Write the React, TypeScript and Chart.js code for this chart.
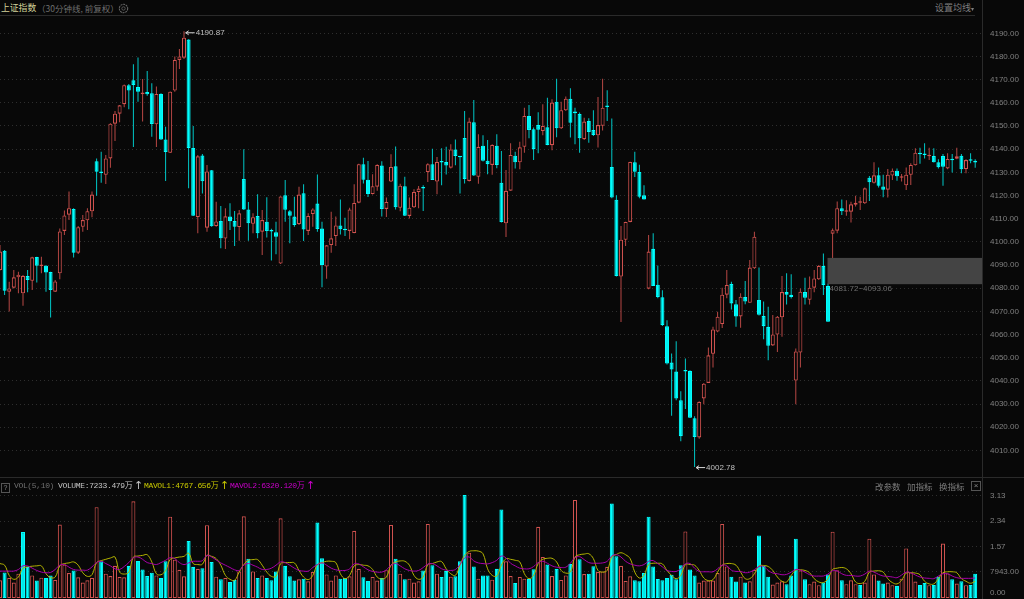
import React, { useEffect, useRef } from "react";
import { Chart, registerables } from "chart.js";

Chart.register(...registerables);

const opens = [
  4087.8,4096.2,4078.5,4080.2,4084.7,4077.8,4085.3,4083.2,4093.5,4089.6,
  4089.7,4087,4078.5,4086.4,4104.7,4111.7,4114.2,4095.3,4106.5,4109.3,
  4113.2,4134.8,4130.4,4128.9,4136,4151,4155.3,4159.4,4167.6,4169.7,
  4166.8,4163.7,4164.7,4164.1,4150.7,4163.8,4144.2,4138.4,4165.3,4178.5,
  4179.5,4187.3,4140.5,4110.7,4137.3,4106.1,4130.9,4106.8,4109,4101.4,
  4110.9,4109,4106.4,4127.1,4114,4107.8,4111.2,4104.4,4108.7,4104.7,
  4104.1,4090.6,4120.1,4113.2,4110.9,4107.7,4121,4104.7,4112,4116.5,
  4105.7,4089.3,4098.6,4102.5,4107.1,4105.4,4104.7,4103.8,4116.9,4133.5,
  4126.8,4120.6,4123.8,4132.9,4114.2,4126,4132.6,4114.7,4124,4111.2,
  4114.9,4121.5,4123.1,4130.1,4133.5,4126,4134.3,4134.5,4132,4139.9,
  4136.6,4144.8,4126.3,4151.6,4128.1,4141.5,4135,4133.2,4141.5,4125.5,
  4108,4122.1,4137.2,4134.3,4141,4154.3,4148.6,4150.4,4147.8,4149.4,
  4141.7,4160.5,4149,4156.8,4161.8,4156.3,4155.2,4144.3,4152.2,4148.3,
  4146,4150.1,4158.4,4132.3,4118.2,4085,4100.9,4108.6,4134.3,4130.1,
  4120.1,4079.8,4097,4081.5,4076.1,4063.6,4047.9,4044,4031.6,4044.2,
  4044.2,4023.9,4015.6,4032.4,4039.1,4051.7,4061.3,4064.5,4077.2,4081.8,
  4073.1,4067.8,4076.2,4073.7,4088.6,4074.9,4068,4063.3,4055.3,4060,
  4067.4,4078.3,4077.2,4040.1,4052.2,4078.3,4075,4080.2,4083.8,4089.6,
  4080.9,4103.5,4104.8,4114.5,4113,4113,4116,4116.9,4116.6,4127.7,
  4125.5,4128.7,4123.9,4122.5,4128.6,4130.7,4127.7,4124.4,4128.9,4133,
  4138.4,4137.8,4136.9,4137,4134.3,4137,4131.7,4135.3,4135.9,4137.2,
  4131.4,4135.6,4135,
];

const highs = [
  4098.6,4096.5,4082.8,4087.8,4087.1,4085.7,4087.8,4093.6,4093.6,4093.6,
  4090,4087.1,4083.5,4105.8,4113.5,4121.7,4114.5,4106.8,4111.6,4114.5,
  4121.7,4136,4138.9,4137.5,4151.2,4156.5,4159.1,4167.9,4168.1,4176.6,
  4179.6,4170.3,4173.7,4168.4,4167,4164.1,4149.7,4164.9,4180,4183.2,
  4190.87,4187.4,4150,4137.5,4137.9,4133.2,4131,4117.3,4115.5,4114.5,
  4116.6,4113.3,4113.7,4140,4117.2,4112.3,4120.5,4113.7,4119.2,4105.6,
  4108.7,4119.7,4126.7,4113.7,4119.5,4123.8,4124.8,4112.3,4114.5,4129.1,
  4108.7,4098.6,4113,4110.9,4118.3,4110.4,4114.7,4124.8,4133.7,4136.3,
  4134.9,4129.2,4133.5,4134.8,4119.1,4137.8,4141.1,4125.1,4128.1,4119.1,
  4122.7,4124.1,4124.4,4133.9,4140.2,4136.6,4140.4,4141,4142.1,4144.2,
  4136.8,4156.5,4153.6,4161.2,4146.4,4146,4144,4142.1,4146.4,4139.2,
  4131,4142.5,4138.9,4143.2,4157.9,4159.1,4149.3,4155.9,4159.4,4162.2,
  4161.5,4170.4,4160.5,4162.7,4166.3,4157.9,4155.8,4153.6,4153.3,4156.8,
  4162.5,4170.4,4165.4,4153.2,4120.1,4106.8,4108.7,4134.6,4138.9,4133.3,
  4124.4,4103,4103.7,4089.8,4079.1,4066.2,4051.8,4057.1,4035.5,4049.6,
  4044.6,4024.7,4031.2,4039.1,4054.4,4063.3,4069.8,4080.2,4087.8,4082.8,
  4074.9,4077.8,4083.1,4092.2,4104.4,4088.9,4074.2,4072,4068.4,4068,
  4085.2,4086.4,4086,4054,4079.9,4084.5,4085,4087.8,4090,4095,
  4082,4105.8,4117.4,4118.3,4118,4117.3,4119.9,4119.5,4123.4,4128.4,
  4134.3,4132.1,4128.9,4131.4,4131.7,4131.7,4129.3,4132.1,4133.9,4140.4,
  4140.6,4142.5,4140.6,4140.4,4135.6,4137.9,4138.2,4137.9,4140.6,4137.9,
  4135.6,4138.2,4135.6,
];

const lows = [
  4087.6,4077.1,4069.9,4079.9,4077.8,4072.4,4078.2,4079.2,4082.4,4086.4,
  4078.5,4067.3,4078.3,4083.8,4103,4109.4,4093.2,4094.7,4104.4,4105.1,
  4110.6,4119.9,4125.5,4125,4132,4143.5,4151.6,4158.1,4157.2,4140.9,
  4160.5,4151.9,4163.1,4145.3,4140.9,4143.9,4126.3,4138.3,4164.8,4174.6,
  4178.9,4123.1,4111.2,4103.7,4120.9,4104.4,4106.5,4106.5,4097.2,4096.9,
  4105.1,4098.2,4100.5,4113.7,4100.5,4103.7,4101.5,4094.3,4101.9,4091.9,
  4094.6,4090.4,4108.7,4099.4,4106.5,4107.3,4100.4,4102.9,4106.5,4104.4,
  4080.4,4084.1,4095.3,4098.2,4103.2,4102.5,4101.1,4103.7,4116.6,4125.2,
  4119.3,4120.4,4122,4110.9,4110.7,4125.8,4114,4113.2,4111.2,4110.1,
  4114.6,4114.5,4113.3,4125.8,4126.7,4120.5,4124.4,4129.1,4131.7,4133,
  4120.9,4125.2,4126,4128.4,4125.1,4134.7,4129.2,4128.9,4131.8,4108.3,
  4102.1,4122,4131.7,4131.3,4138.5,4144.7,4135.3,4138.2,4146,4141.7,
  4139.5,4145.1,4148.7,4156.5,4145,4142.1,4138.5,4144,4142.8,4145.7,
  4140.7,4148.1,4152.2,4118.8,4085,4065.4,4098.2,4108.5,4128,4118.8,
  4118.3,4079.5,4080.9,4075.6,4063.7,4047.1,4024.9,4031.6,4013.9,4027.9,
  4024,4002.78,4015,4029.9,4039.1,4045.8,4061,4062.8,4075.6,4070.8,
  4063.3,4062.9,4073.1,4073.7,4088.3,4068.2,4057.9,4048.9,4055,4052.5,
  4059,4073,4075.5,4029.9,4045.8,4073,4073,4078.2,4083.5,4077,
  4065.5,4092.9,4103.7,4111.6,4111.3,4108.3,4115.2,4113.7,4116.3,4117.6,
  4125.2,4123.4,4119.2,4119.1,4126.7,4126.4,4126,4122.4,4124.5,4132.9,
  4133.7,4136,4135.3,4134.2,4131.7,4124.2,4131.3,4129.9,4135.6,4129.6,
  4129.6,4133.9,4132,
];

const closes = [
  4095.8,4078.9,4079.9,4084.7,4085.8,4085.3,4083.5,4093.3,4089.7,4089.9,
  4086.8,4079.2,4082.9,4104.5,4111.4,4114.5,4095.3,4106.3,4109.4,4113.2,
  4120.4,4130.3,4129.7,4136,4151,4155.3,4158.9,4167.6,4165.3,4167.7,
  4164.8,4164.4,4163.7,4150.9,4163.8,4144.2,4138.8,4164.8,4178.5,4180,
  4188.1,4140.5,4111.3,4136.9,4126.1,4130.4,4106.7,4108.8,4101.5,4111,
  4108.9,4106.5,4112.3,4114,4108,4110.6,4103.7,4109.4,4104.7,4104.5,
  4102.2,4119.6,4113.9,4111.3,4107.3,4120.4,4105.3,4111.2,4114,4105.5,
  4090,4098.5,4101.5,4107.1,4105.4,4105,4114,4116.8,4133.5,4126.8,
  4120.6,4124,4133.2,4114.2,4117.2,4132.3,4114.9,4124.2,4111.3,4114.7,
  4121.5,4123,4123,4133.5,4126.7,4134.5,4134.2,4132.9,4139.9,4137,
  4136.5,4127.1,4151.9,4128.6,4141,4135,4133.5,4141.8,4133.2,4108.6,
  4122,4137.5,4134.3,4140.8,4154.3,4148.3,4140,4148.4,4150,4141.8,
  4160.1,4149,4156.8,4161.8,4151.4,4155.5,4144.7,4151.9,4147.4,4146.1,
  4150.4,4157.9,4158.2,4119.1,4085.3,4100.9,4108.6,4134.5,4130.3,4119.5,
  4118.3,4095.8,4080.9,4076.2,4064.1,4047.5,4044.9,4032.4,4016.1,4044,
  4024.1,4015.8,4030.9,4038.8,4051,4062.2,4067.7,4077.2,4081.4,4073.4,
  4067.8,4076.3,4074.2,4088.9,4102.2,4068.5,4063.6,4055.1,4060,4067.7,
  4078.3,4077.2,4076.2,4052.7,4078.5,4075.9,4080.2,4084.2,4089.6,4081.4,
  4065.5,4105,4114.5,4113.2,4113.3,4116.2,4116.9,4117.1,4123.1,4125.7,
  4128.7,4124.2,4122.5,4129,4130.7,4128.3,4128.3,4129,4133.2,4138.5,
  4137.8,4137.5,4137.5,4134.3,4132.2,4132.4,4135.8,4135.2,4136.9,4131.3,
  4135.3,4135,4134.2,
];

const volumes = [
  .54,.78,.61,.47,.74,2.01,.95,.69,.53,.62,
  .61,.69,.55,2.24,1.02,.76,.84,.63,.47,.54,
  .61,2.77,1.12,.74,.67,.98,.64,.63,.98,2.95,
  1.13,.87,.67,.77,.69,.61,1.12,2.48,1.17,.86,
  .66,1.74,.95,.89,.91,2.22,1.10,.65,.57,.61,
  .49,.55,.81,2.49,1.20,.81,.61,.69,.61,.54,
  .81,2.43,.98,.66,.53,.57,.59,.51,.79,2.30,
  1.21,.72,.53,.69,.59,.61,.66,2.05,.89,.63,
  .52,.64,.53,.61,.85,2.23,1.20,.74,.57,.59,
  .47,.51,.84,2.26,1.00,.74,.64,.83,.65,.66,
  1.12,3.14,1.38,.96,.59,.69,.69,.56,.89,2.70,
  1.12,.67,.46,.64,.59,.58,.88,2.17,1.25,1.02,
  .67,.89,.55,.69,1.04,2.99,1.18,.73,.74,.97,
  .79,.81,.95,2.88,1.27,.98,.52,.66,.54,.51,
  .76,2.48,.96,.58,.54,.61,.71,.57,1.00,2.03,
  .87,.69,.47,.53,.53,.53,.76,2.26,.96,.65,
  .50,.65,.47,.51,.86,1.91,.98,.65,.41,.47,
  .51,.42,.69,1.81,.84,.57,.42,.50,.39,.47,
  .72,2.02,.85,.54,.42,.54,.42,.40,.47,1.81,
  .72,.53,.44,.47,.39,.37,.59,1.51,.78,.50,
  .40,.46,.39,.40,.65,1.66,.75,.57,.44,.51,
  .39,.40,.74,
];

const volumeIsUp = [
  1,0,1,1,1,0,0,1,0,1,
  0,0,1,1,1,1,0,1,1,1,
  1,1,0,1,1,1,1,1,0,1,
  0,0,0,0,1,0,0,1,1,1,
  1,0,0,1,0,1,0,1,0,1,
  0,0,1,1,0,1,0,1,0,0,
  0,1,0,0,0,1,0,1,1,0,
  0,1,1,1,0,0,1,1,1,0,
  0,1,1,0,1,1,0,1,0,1,
  1,1,0,1,0,1,0,0,1,0,
  0,0,1,0,1,0,0,1,0,0,
  1,1,0,1,1,0,0,1,1,0,
  1,0,1,1,0,1,0,1,0,0,
  1,1,1,0,0,1,1,1,0,0,
  0,0,0,0,0,0,0,0,0,1,
  0,0,1,1,1,1,1,1,1,0,
  0,1,0,1,1,0,0,0,1,1,
  1,0,0,0,1,0,1,1,1,0,
  0,1,1,0,1,1,1,0,1,1,
  1,0,0,1,1,0,1,1,1,1,
  0,0,1,0,0,1,1,0,1,0,
  1,0,0,
];

const mavol1 = [
  1.05,1.00,.69,.57,.64,.91,.95,.97,.98,.98,
  .74,.62,.64,.98,1.05,1.07,1.10,1.00,.77,.66,
  .71,1.08,1.14,1.18,1.22,1.25,.79,.73,.79,1.25,
  1.28,1.30,1.32,1.10,.74,.71,.84,1.18,1.22,1.25,
  1.27,1.37,1.05,1.02,1.03,1.30,1.27,1.20,1.00,.69,
  .57,.54,.79,1.02,1.15,1.17,1.17,1.00,.79,.66,
  .66,1.05,1.08,1.08,1.07,.84,.64,.56,.69,1.02,
  1.08,1.12,1.12,1.08,.74,.59,.69,.98,1.02,1.00,
  .98,.87,.64,.58,.64,1.00,1.10,1.13,1.12,1.00,
  .69,.57,.64,1.02,1.05,1.10,1.11,.89,.74,.69,
  1.00,1.30,1.42,1.44,1.43,1.35,.89,.69,.67,1.00,
  1.20,1.18,1.15,1.10,.74,.59,.69,1.05,1.18,1.21,
  1.21,1.10,.84,.76,.79,1.25,1.32,1.34,1.35,1.20,
  .84,.79,.84,1.25,1.33,1.38,1.32,1.20,.79,.61,
  .69,1.02,1.06,1.06,1.04,.84,.69,.59,.69,1.02,
  1.02,1.00,.84,.61,.53,.56,.79,1.00,1.05,1.05,
  1.00,.79,.59,.59,.74,.98,.99,.96,.84,.64,
  .51,.49,.69,.85,.86,.84,.77,.59,.49,.47,
  .59,.87,.91,.93,.89,.74,.49,.44,.51,.79,
  .82,.83,.79,.59,.47,.43,.54,.76,.77,.76,
  .71,.51,.43,.43,.59,.77,.80,.80,.77,.59,
  .51,.45,.51,
];

const mavol2 = [
  .82,.82,.82,.82,.87,.98,.98,.91,.84,.79,
  .77,.78,.87,1.00,1.02,.94,.87,.85,.85,.85,
  .95,1.08,1.12,1.05,.98,.89,.87,.96,1.08,1.23,
  1.25,1.18,1.08,1.05,1.02,1.08,1.15,1.23,1.20,1.08,
  1.02,1.07,1.12,1.12,1.14,1.30,1.25,1.16,1.07,1.00,
  .93,.86,.84,1.00,1.05,1.00,.94,.87,.87,.91,
  1.00,1.10,1.08,1.00,.91,.84,.82,.82,.93,1.02,
  1.07,1.00,.91,.86,.84,.84,.89,1.04,1.04,.95,
  .86,.81,.79,.79,.86,1.00,1.05,.98,.89,.84,
  .82,.84,.93,1.03,1.05,.98,.89,.85,.84,.87,
  1.02,1.22,1.25,1.13,1.07,1.05,1.04,1.08,1.15,1.28,
  1.22,1.06,.98,.91,.89,.89,.96,1.08,1.12,1.06,
  .98,.94,.93,.94,1.06,1.23,1.26,1.17,1.08,1.06,
  1.06,1.07,1.12,1.28,1.32,1.25,1.12,1.04,1.00,.98,
  1.02,1.12,1.14,1.05,.95,.84,.81,.81,.89,1.04,
  1.05,.91,.81,.80,.80,.80,.89,1.00,.98,.85,
  .81,.81,.77,.79,.86,.96,.96,.84,.76,.74,
  .71,.72,.79,.87,.85,.79,.71,.67,.67,.67,
  .73,.83,.82,.74,.69,.69,.67,.67,.73,.82,
  .79,.72,.67,.66,.64,.62,.70,.79,.77,.70,
  .64,.61,.60,.59,.67,.74,.74,.67,.62,.60,
  .60,.60,.61,
];

const volTickValues = [0.17, 0.7943, 1.57, 2.34, 3.13];
const volTickLabels = ["0.00", "7943.00", "1.57", "2.34", "3.13"];

const gapLow = 4081.72;
const gapHigh = 4093.06;
const gapStartIndex = 180;
const highIndex = 40;
const lowIndex = 151;
const highValue = 4190.87;
const lowValue = 4002.78;

const BG = "#080808";
const RED = "#d0524f";
const CYAN = "#00ffff";
const GRID = "#2e2e2e";
const AXIS_TEXT = "#808080";
const LINE = "#2a2a2a";
const X_MAX = 213.48;

const axisFont = { family: "'Liberation Sans', Arial, sans-serif", size: 8 };

const fitAxis = (axis: any) => {
  axis.width = 42;
  axis.paddingTop = 0;
  axis.paddingBottom = 0;
};

const arrowLabel = (ctx: any, x: number, y: number, text: string) => {
  ctx.save();
  ctx.strokeStyle = "#d8d8d8";
  ctx.lineWidth = 1;
  ctx.beginPath();
  ctx.moveTo(x + 9, y + 0.5);
  ctx.lineTo(x, y + 0.5);
  ctx.moveTo(x + 3, y - 1.5);
  ctx.lineTo(x, y + 0.5);
  ctx.lineTo(x + 3, y + 2.5);
  ctx.stroke();
  ctx.fillStyle = "#c0c0c0";
  ctx.font = "8px 'Liberation Sans', Arial, sans-serif";
  ctx.textBaseline = "middle";
  ctx.textAlign = "left";
  ctx.fillText(text, x + 10, y + 0.5);
  ctx.restore();
};

const marksPlugin = {
  id: "marks",
  afterDatasetsDraw(chart: any) {
    const { ctx, chartArea } = chart;
    const x = chart.scales.x;
    const y = chart.scales.y;
    const left = x.getPixelForValue(gapStartIndex) - 0.5;
    const top = y.getPixelForValue(gapHigh);
    const bottom = y.getPixelForValue(gapLow);
    ctx.save();
    ctx.fillStyle = "#444444";
    ctx.fillRect(left, top, chartArea.right - left, bottom - top);
    ctx.fillStyle = "#6e6e6e";
    ctx.font = "8px 'Liberation Sans', Arial, sans-serif";
    ctx.textBaseline = "middle";
    ctx.textAlign = "left";
    ctx.fillText(`${gapLow}~${gapHigh}`, left + 2, bottom + 4.5);
    ctx.restore();
    arrowLabel(ctx, x.getPixelForValue(highIndex) + 1.7, y.getPixelForValue(highValue) + 1, String(highValue));
    arrowLabel(ctx, x.getPixelForValue(lowIndex) + 1.5, y.getPixelForValue(lowValue), String(lowValue));
  },
};

const wrap: React.CSSProperties = {
  position: "absolute",
  left: 0,
  top: 0,
  width: 1024,
  height: 599,
  overflow: "hidden",
  background: BG,
};

const label = (left: number, top: number, color: string, size = 9): React.CSSProperties => ({
  position: "absolute",
  left,
  top,
  color,
  fontSize: size,
  lineHeight: "12px",
  whiteSpace: "pre",
  fontFamily: "'Noto Sans CJK SC', sans-serif",
});

const mono = (left: number, color: string): React.CSSProperties => ({
  position: "absolute",
  left,
  top: 480,
  color,
  fontSize: 8,
  lineHeight: "12px",
  whiteSpace: "pre",
  letterSpacing: -0.35,
  fontFamily: "'Liberation Mono', 'Noto Sans CJK SC', monospace",
});

const arrow = (left: number, color: string): React.CSSProperties => ({
  position: "absolute",
  left,
  top: 480,
  color,
  fontSize: 11,
  lineHeight: "12px",
  fontFamily: "'DejaVu Sans', sans-serif",
});

export default function App() {
  const priceRef = useRef<HTMLCanvasElement>(null);
  const volRef = useRef<HTMLCanvasElement>(null);

  useEffect(() => {
    const isUp = closes.map((c, i) => c >= opens[i]);
    const priceChart = new Chart(priceRef.current as HTMLCanvasElement, {
      type: "bar",
      data: {
        datasets: [
          {
            order: 1,
            grouped: false,
            barThickness: 4,
            minBarLength: 1.5,
            borderWidth: 1.1,
            borderSkipped: false,
            inflateAmount: 0,
            data: opens.map((o, i) => ({ x: i, y: [Math.min(o, closes[i]), Math.max(o, closes[i])] })),
            backgroundColor: isUp.map((u) => (u ? BG : CYAN)),
            borderColor: isUp.map((u) => (u ? RED : CYAN)),
          },
          {
            order: 2,
            grouped: false,
            barThickness: 1,
            borderWidth: 0,
            inflateAmount: 0,
            data: lows.map((l, i) => ({ x: i, y: [l, highs[i]] })),
            backgroundColor: isUp.map((u) => (u ? "#b84845" : "#00c8c8")),
          },
        ],
      } as any,
      options: {
        animation: false,
        responsive: false,
        layout: { padding: 0 },
        plugins: { legend: { display: false }, tooltip: { enabled: false } },
        scales: {
          x: { type: "linear", min: 0, max: X_MAX, display: false, offset: false },
          y: {
            position: "right",
            min: 3998.5,
            max: 4197.47,
            afterFit: fitAxis,
            afterBuildTicks: (axis: any) => { axis.ticks = axis.ticks.filter((t: any) => t.value >= 4010 && t.value <= 4190); },
            ticks: {
              stepSize: 10,
              includeBounds: false,
              autoSkip: false,
              padding: 8,
              color: AXIS_TEXT,
              font: axisFont,
              callback: (v: any) => Number(v).toFixed(2),
            },
            grid: { color: GRID, drawTicks: false, lineWidth: 1 },
            border: { display: false, dash: [1, 3] },
          },
        },
      } as any,
      plugins: [marksPlugin],
    });

    const volChart = new Chart(volRef.current as HTMLCanvasElement, {
      type: "bar",
      data: {
        datasets: [
          {
            type: "line",
            order: 0,
            data: mavol2.map((v, i) => ({ x: i, y: v })),
            borderColor: "#a800a8",
            borderWidth: 1,
            pointRadius: 0,
            tension: 0.4,
          },
          {
            type: "line",
            order: 0,
            data: mavol1.map((v, i) => ({ x: i, y: v })),
            borderColor: "#b4b400",
            borderWidth: 1,
            pointRadius: 0,
            tension: 0.4,
          },
          {
            order: 1,
            grouped: false,
            barThickness: 4,
            borderWidth: 1.1,
            borderSkipped: false,
            inflateAmount: 0,
            data: volumes.map((v, i) => ({ x: i, y: v })),
            backgroundColor: volumeIsUp.map((u) => (u ? BG : CYAN)),
            borderColor: volumeIsUp.map((u) => (u ? RED : CYAN)),
          },
        ],
      } as any,
      options: {
        animation: false,
        responsive: false,
        layout: { padding: 0 },
        plugins: { legend: { display: false }, tooltip: { enabled: false } },
        scales: {
          x: { type: "linear", min: 0, max: X_MAX, display: false, offset: false },
          y: {
            position: "right",
            min: 0,
            max: 3.66,
            afterFit: fitAxis,
            afterBuildTicks: (axis: any) => { axis.ticks = volTickValues.map((value) => ({ value })); },
            ticks: {
              autoSkip: false,
              padding: 8,
              color: AXIS_TEXT,
              font: axisFont,
              callback: (_v: any, i: number) => volTickLabels[i],
            },
            grid: {
              color: (c: any) => (c.index === 0 ? "transparent" : GRID),
              drawTicks: false,
              lineWidth: 1,
            },
            border: { display: false, dash: [1, 3] },
          },
        },
      } as any,
    });

    return () => {
      priceChart.destroy();
      volChart.destroy();
    };
  }, []);

  return (
    <div style={wrap}>
      <style>{`html,body{margin:0;padding:0;background:${BG};overflow:hidden}`}</style>
      <canvas ref={priceRef} width={1024} height={461} style={{ position: "absolute", left: 0, top: 16, display: "block" }} />
      <canvas ref={volRef} width={1024} height={120} style={{ position: "absolute", left: 0, top: 478, display: "block" }} />

      <div style={{ position: "absolute", left: 0, top: 15, width: 975, height: 1, background: LINE }} />
      <div style={{ position: "absolute", left: 0, top: 477, width: 1024, height: 1, background: LINE }} />
      <div style={{ position: "absolute", left: 982, top: 0, width: 1, height: 599, background: LINE }} />

      <span style={label(1, 2, "#d2d29a", 8.8)}>上证指数</span>
      <span style={label(37, 2, "#6f6f6f", 8.5)}>（30分钟线, 前复权）</span>
      <svg width="11" height="11" viewBox="0 0 11 11" style={{ position: "absolute", left: 118, top: 2.5 }}>
        <circle cx="5.5" cy="5.5" r="4.2" fill="none" stroke="#666" strokeWidth="1.1" strokeDasharray="2 0.7" />
        <circle cx="5.5" cy="5.5" r="1.7" fill="none" stroke="#666" strokeWidth="0.8" />
      </svg>
      <span style={label(935, 2, "#7e7e7e", 9)}>设置均线</span>
      <span style={{ ...label(971, 3, "#7e7e7e", 6) }}>▾</span>

      <span style={{ position: "absolute", left: 1, top: 483, width: 7, height: 8, border: "1px solid #555", color: "#888", fontSize: 7, lineHeight: "8px", textAlign: "center", fontFamily: "'Liberation Sans', sans-serif" }}>?</span>
      <span style={mono(14, "#6f6f6f")}>VOL(5,10)</span>
      <span style={mono(58, "#c4c4c4")}>VOLUME:7233.479万</span>
      <span style={arrow(134, "#c4c4c4")}>↑</span>
      <span style={mono(144, "#c8c800")}>MAVOL1:4767.656万</span>
      <span style={arrow(220, "#c8c800")}>↑</span>
      <span style={mono(230, "#c800c8")}>MAVOL2:6320.120万</span>
      <span style={arrow(306, "#c800c8")}>↑</span>

      <span style={label(875, 480, "#7e7e7e", 8.5)}>改参数</span>
      <span style={label(907, 480, "#7e7e7e", 8.5)}>加指标</span>
      <span style={label(939, 480, "#7e7e7e", 8.5)}>换指标</span>
      <span style={{ position: "absolute", left: 971, top: 481, width: 8, height: 8, border: "1px solid #555", color: "#888", fontSize: 8, lineHeight: "8px", textAlign: "center", fontFamily: "'Liberation Sans', sans-serif" }}>×</span>
    </div>
  );
}
